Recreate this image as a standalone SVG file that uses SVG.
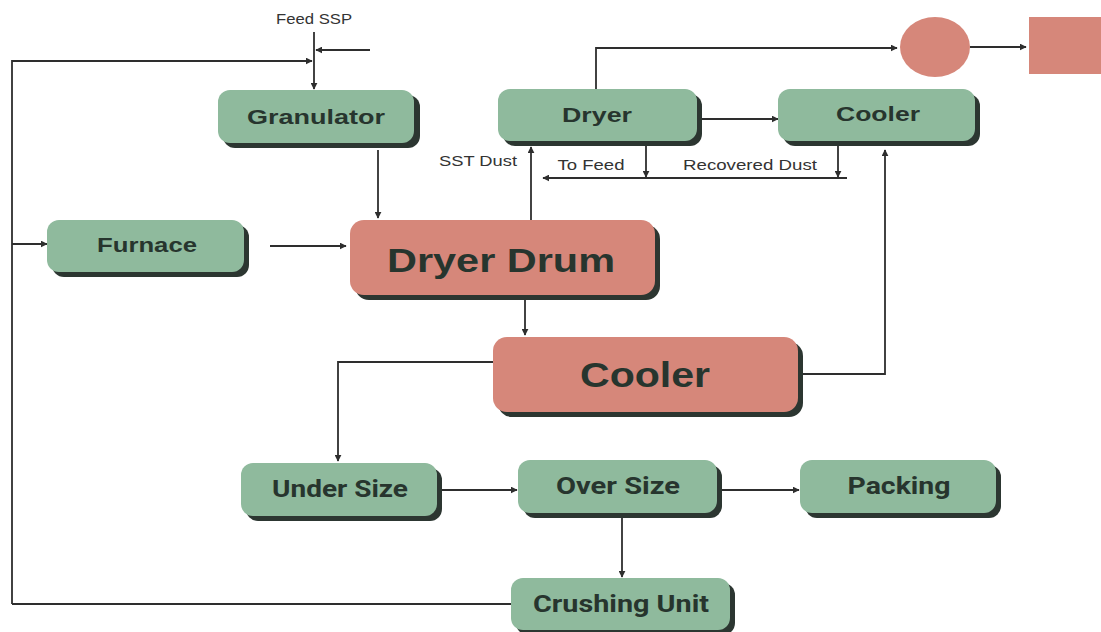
<svg xmlns="http://www.w3.org/2000/svg" width="1101" height="632" viewBox="0 0 1101 632">
<defs>
<marker id="ah" viewBox="0 0 10 10" refX="9" refY="5" markerWidth="7" markerHeight="7" markerUnits="userSpaceOnUse" orient="auto"><path d="M0,0 L10,5 L0,10 z" fill="#2e2e2e"/></marker>
<style>
.g{fill:#8fba9d}
.p{fill:#d6877a}
.sh{fill:#2c3631}
.t{font-family:"Liberation Sans",Arial,sans-serif;font-weight:bold;fill:#27352e;text-anchor:middle}
.c{font-family:Roboto,"Liberation Sans",sans-serif;font-weight:bold;fill:#27352e;text-anchor:middle}
.s{font-family:"Liberation Sans",Arial,sans-serif;font-size:15px;fill:#333}
.ln{fill:none;stroke:#2e2e2e;stroke-width:1.8}
.a{marker-end:url(#ah)}
</style>
</defs>
<rect width="1101" height="632" fill="#ffffff"/>
<g id="connectors">
<path class="ln a" d="M314,32 V89"/>
<path class="ln a" d="M370,50 H316"/>
<path class="ln a" d="M12,604 V61 H312"/>
<path class="ln a" d="M12,244 H47"/>
<path class="ln" d="M12,604 H511"/>
<path class="ln a" d="M378,150 V218"/>
<path class="ln a" d="M270,246 H346"/>
<path class="ln a" d="M531,220 V147"/>
<path class="ln a" d="M646,146 V177"/>
<path class="ln a" d="M838,146 V177"/>
<path class="ln a" d="M847,178 H543"/>
<path class="ln a" d="M702,119 H778"/>
<path class="ln a" d="M596,89 V48 H897"/>
<path class="ln a" d="M970,47 H1026"/>
<path class="ln a" d="M525,300 V335"/>
<path class="ln a" d="M803,374 H885 V150"/>
<path class="ln a" d="M493,362 H338 V461"/>
<path class="ln a" d="M442,490 H517"/>
<path class="ln a" d="M722,490 H799"/>
<path class="ln a" d="M622,518 V577"/>
</g>
<g id="labels">
<text class="s" x="314" y="24" text-anchor="middle" textLength="76" lengthAdjust="spacingAndGlyphs">Feed SSP</text>
<text class="s" x="478" y="166" text-anchor="middle" textLength="78" lengthAdjust="spacingAndGlyphs">SST Dust</text>
<text class="s" x="591" y="170" text-anchor="middle" textLength="67" lengthAdjust="spacingAndGlyphs">To Feed</text>
<text class="s" x="750" y="170" text-anchor="middle" textLength="134" lengthAdjust="spacingAndGlyphs">Recovered Dust</text>
</g>
<g id="granulator">
<rect class="sh" x="223" y="95" width="197" height="53" rx="12"/>
<rect class="g" x="218" y="90" width="196" height="53" rx="12"/>
<text class="t" x="316" y="124" font-size="21" textLength="138" lengthAdjust="spacingAndGlyphs">Granulator</text>
</g>
<g id="dryer">
<rect class="sh" x="503" y="94" width="199" height="52" rx="12"/>
<rect class="g" x="498" y="89" width="199" height="52" rx="12"/>
<text class="t" x="597" y="122" font-size="21" textLength="70" lengthAdjust="spacingAndGlyphs">Dryer</text>
</g>
<g id="cooler-top">
<rect class="sh" x="783" y="94" width="197" height="52" rx="12"/>
<rect class="g" x="778" y="89" width="197" height="52" rx="12"/>
<text class="t" x="878" y="121" font-size="21" textLength="84" lengthAdjust="spacingAndGlyphs">Cooler</text>
</g>
<g id="cyclone">
<ellipse class="p" cx="935" cy="47" rx="35" ry="30"/>
</g>
<g id="collector">
<rect class="p" x="1029" y="17" width="72" height="57"/>
</g>
<g id="furnace">
<rect class="sh" x="52" y="225" width="197" height="52" rx="12"/>
<rect class="g" x="47" y="220" width="197" height="52" rx="12"/>
<text class="t" x="147" y="252" font-size="21" textLength="100" lengthAdjust="spacingAndGlyphs">Furnace</text>
</g>
<g id="dryer-drum">
<rect class="sh" x="355" y="225" width="305" height="75" rx="14"/>
<rect class="p" x="350" y="220" width="305" height="75" rx="14"/>
<text class="t" x="501" y="272" font-size="34" textLength="228" lengthAdjust="spacingAndGlyphs">Dryer Drum</text>
</g>
<g id="cooler-main">
<rect class="sh" x="498" y="342" width="305" height="75" rx="14"/>
<rect class="p" x="493" y="337" width="305" height="75" rx="14"/>
<text class="t" x="645" y="387" font-size="35" textLength="130" lengthAdjust="spacingAndGlyphs">Cooler</text>
</g>
<g id="under-size">
<rect class="sh" x="246" y="468" width="196" height="53" rx="12"/>
<rect class="g" x="241" y="463" width="196" height="53" rx="12"/>
<text class="c" x="340" y="497" font-size="24" textLength="136" lengthAdjust="spacingAndGlyphs">Under Size</text>
</g>
<g id="over-size">
<rect class="sh" x="523" y="465" width="199" height="53" rx="12"/>
<rect class="g" x="518" y="460" width="199" height="53" rx="12"/>
<text class="c" x="618" y="494" font-size="24" textLength="124" lengthAdjust="spacingAndGlyphs">Over Size</text>
</g>
<g id="packing">
<rect class="sh" x="805" y="465" width="196" height="53" rx="12"/>
<rect class="g" x="800" y="460" width="196" height="53" rx="12"/>
<text class="c" x="899" y="494" font-size="24" textLength="103" lengthAdjust="spacingAndGlyphs">Packing</text>
</g>
<g id="crushing-unit">
<rect class="sh" x="516" y="583" width="219" height="52" rx="12"/>
<rect class="g" x="511" y="578" width="219" height="52" rx="12"/>
<text class="c" x="621" y="612" font-size="24" textLength="176" lengthAdjust="spacingAndGlyphs">Crushing Unit</text>
</g>
</svg>
